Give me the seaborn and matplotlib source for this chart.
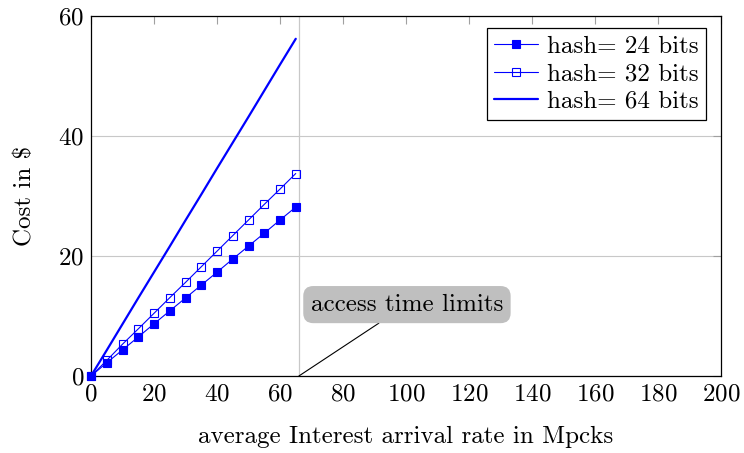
import matplotlib
matplotlib.use("Agg")
import matplotlib.pyplot as plt
import seaborn as sns
import pandas as pd
from matplotlib.lines import Line2D

rate = [0, 5, 10, 15, 20, 25, 30, 35, 40, 45, 50, 55, 60, 65]
cost_24 = [0, 2.2, 4.35, 6.5, 8.7, 10.85, 13.0, 15.15, 17.3, 19.5, 21.65, 23.8, 26.0, 28.15]
cost_32 = [0, 2.6, 5.3, 7.85, 10.45, 13.05, 15.6, 18.2, 20.8, 23.4, 26.0, 28.6, 31.15, 33.75]
cost_64 = [0, 4.3, 8.65, 13.0, 17.3, 21.6, 25.95, 30.25, 34.6, 38.9, 43.2, 47.55, 51.9, 56.2]
labels = ["hash= 24 bits", "hash= 32 bits", "hash= 64 bits"]
x_ticks = [0, 20, 40, 60, 80, 100, 120, 140, 160, 180, 200]
y_ticks = [0, 20, 40, 60]
limit_x = 66
annot_text = "access time limits"

sns.set_style("white")
plt.rcParams["font.family"] = "serif"
plt.rcParams["font.serif"] = ["cmr10", "DejaVu Serif"]
plt.rcParams["mathtext.fontset"] = "cm"
plt.rcParams["axes.formatter.use_mathtext"] = True
plt.rcParams["axes.unicode_minus"] = False
plt.rcParams["text.color"] = "black"
plt.rcParams["axes.labelcolor"] = "black"
plt.rcParams["xtick.labelcolor"] = "black"
plt.rcParams["ytick.labelcolor"] = "black"

fs = 18
ms = 5.6
fig = plt.figure(figsize=(7.44, 4.53), dpi=100)
ax = fig.add_axes([91/744, (453-376)/453, (721-91)/744, (376-16)/453])

df = pd.DataFrame({"rate": rate, "c24": cost_24, "c32": cost_32, "c64": cost_64})
blue = "#0000ff"
sns.lineplot(data=df, x="rate", y="c64", ax=ax, color=blue, lw=1.6, zorder=3)
sns.lineplot(data=df, x="rate", y="c32", ax=ax, color=blue, lw=0.8, marker="s",
             markersize=ms, markerfacecolor="none", markeredgecolor=blue,
             markeredgewidth=0.8, zorder=4, clip_on=False)
sns.lineplot(data=df, x="rate", y="c24", ax=ax, color=blue, lw=0.8, marker="s",
             markersize=ms, markerfacecolor=blue, markeredgecolor=blue,
             markeredgewidth=0.8, zorder=5, clip_on=False)

ax.set_xlim(0, 200)
ax.set_ylim(0, 60)
ax.set_xticks(x_ticks)
ax.set_yticks(y_ticks)
ax.yaxis.grid(True, color="#c8c8c8", lw=0.8)
ax.xaxis.grid(False)
ax.axvline(limit_x, color="#c8c8c8", lw=0.9, zorder=1)
ax.tick_params(direction="in", length=6, width=0.8, color="#a0a0a0",
               top=True, right=True, labelsize=fs, pad=5)
for s in ax.spines.values():
    s.set_color("black")
    s.set_linewidth(0.9)
ax.set_xlabel("average Interest arrival rate in Mpcks", fontsize=fs, labelpad=15)
ax.set_ylabel("Cost in $", fontsize=fs, labelpad=16)

ax.annotate(annot_text, xy=(limit_x, 0), xytext=(100.3, 11.9),
            textcoords="data", ha="center", va="center", fontsize=fs,
            bbox=dict(boxstyle="round,pad=0.3,rounding_size=0.4", fc="#bfbfbf", ec="none"),
            arrowprops=dict(arrowstyle="-", color="black", lw=0.8, shrinkA=0, shrinkB=0))

handles = [
    Line2D([], [], color=blue, lw=0.8, marker="s", markersize=ms, markerfacecolor=blue,
           markeredgewidth=0.8),
    Line2D([], [], color=blue, lw=0.8, marker="s", markersize=ms, markerfacecolor="none",
           markeredgewidth=0.8),
    Line2D([], [], color=blue, lw=1.6),
]
leg = ax.legend(handles, labels, loc="upper right", bbox_to_anchor=(0.976, 0.967),
                fontsize=fs, frameon=True, fancybox=False, edgecolor="black",
                framealpha=1, handlelength=1.75, handletextpad=0.35, borderpad=0.3,
                labelspacing=0.2, borderaxespad=0)
leg.get_frame().set_linewidth(0.9)

fig.savefig("out.png", dpi=100)
